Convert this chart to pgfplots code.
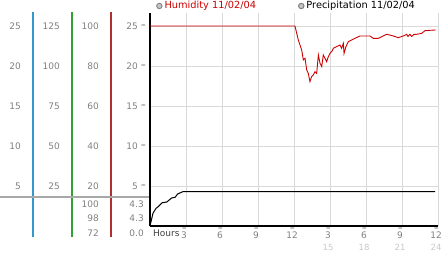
\documentclass[border=0pt]{standalone}
\usepackage{fontspec}
\setmainfont{DejaVu Sans}
\usepackage{pgfplots}
\pgfplotsset{compat=1.18}
\definecolor{tickgray}{HTML}{808080}
\definecolor{gridgray}{HTML}{D9D9D9}
\definecolor{cyanline}{HTML}{3399CC}
\definecolor{greenline}{HTML}{33A033}
\definecolor{redline}{HTML}{B03030}
\definecolor{humred}{HTML}{CC0000}
\definecolor{sepgray}{HTML}{A8A8A8}
\definecolor{faint}{HTML}{C8C8C8}
\pgfplotsset{
  colaxis/.style={
    scale only axis, width=1pt, height=225pt,
    anchor=south west,
    xmin=0, xmax=1, ymin=-1.375, ymax=26.75,
    axis x line=none, axis y line*=left,
    y axis line style={draw=none},
    ytick={5,10,15,20,25},
    major tick length=0pt,
    clip=false,
    yticklabel style={font=\fontsize{9}{10}\selectfont, text=tickgray, inner sep=0pt, xshift=-12pt},
  }
}
\begin{document}
\begin{tikzpicture}
\path[use as bounding box] (0,0) rectangle (442pt,253pt);
% column 1
\begin{axis}[colaxis, at={(33pt,16pt)}, yticklabels={5,10,15,20,25}]
\draw[cyanline, line width=1.2pt] (rel axis cs:0,0) -- (rel axis cs:0,1);
\end{axis}
% column 2
\begin{axis}[colaxis, at={(72pt,16pt)}, yticklabels={25,50,75,100,125}]
\draw[greenline, line width=1.2pt] (rel axis cs:0,0) -- (rel axis cs:0,1);
\end{axis}
% column 3
\begin{axis}[colaxis, at={(111pt,16pt)},
  yticklabels={20,40,60,80,100},
  extra y ticks={2.75,1,-0.875}, extra y tick labels={100,98,72}]
\draw[redline, line width=1.2pt] (rel axis cs:0,0) -- (rel axis cs:0,1);
\end{axis}
% column 4 (labels of the humidity axis)
\begin{axis}[colaxis, at={(150pt,16pt)},
  yticklabels={5,10,15,20,25},
  extra y ticks={2.75,1,-0.875}, extra y tick labels={4.3,4.3,0.0},
  extra y tick style={yticklabel style={xshift=6pt}}]
\end{axis}
\draw[sepgray, line width=2pt] (0pt,56pt) -- (150pt,56pt);
% main plot
\begin{axis}[
  scale only axis, width=288pt, height=213pt,
  at={(150pt,27pt)}, anchor=south west,
  xmin=0, xmax=24, ymin=0, ymax=26.625,
  axis x line*=bottom, axis y line*=left,
  axis line style={-, line width=1.2pt, black},
  xtick={3,6,...,24}, ytick={5,10,...,25},
  major tick length=0pt,
  grid=major, grid style={gridgray, line width=0.8pt},
  xticklabels={3,6,9,12,3,6,9,12},
  xticklabel style={font=\fontsize{9}{10}\selectfont, text=tickgray, inner sep=0pt, anchor=north, yshift=-6pt, xshift=-2pt},
  yticklabels={≈,≈,≈,≈,≈},
  yticklabel style={font=\fontsize{6}{6}\selectfont, text=tickgray, inner sep=0pt, xshift=-4pt},
  clip=false,
  legend style={at={(rel axis cs:0,1)}, anchor=west, xshift=6pt, yshift=7pt,
    draw=none, fill=none, inner sep=0pt, font=\fontsize{9.8}{10}\selectfont,
    legend columns=2, /tikz/every even column/.append style={column sep=40pt}},
  legend cell align=left,
]
\addplot[humred, line width=0.9pt, legend image code/.code={\draw[fill=gray!45, draw=gray] (3pt,0pt) circle (2.7pt);}] coordinates {
(0,25) (12.08,25) (12.36,23.25) (12.64,22.0) (12.78,20.75) (12.92,20.96) (13.06,19.5) (13.19,19.08) (13.33,18.04) (13.47,18.67) (13.61,18.88) (13.75,19.29) (13.89,19.08) (14.03,21.38) (14.17,20.33) (14.31,19.92) (14.44,21.38) (14.58,20.96) (14.72,20.54) (14.86,21.17) (15.0,21.58) (15.14,21.79) (15.28,22.21) (15.56,22.42) (15.83,22.63) (15.97,22.21) (16.11,22.83) (16.17,21.58) (16.33,22.42) (16.53,23.04) (16.81,23.25) (17.08,23.46) (17.5,23.75) (18.33,23.75) (18.61,23.46) (19.03,23.46) (19.72,23.96) (20.28,23.75) (20.69,23.54) (21.11,23.75) (21.39,23.96) (21.5,23.7) (21.65,23.95) (21.81,23.7) (22.0,23.95) (22.22,23.96) (22.64,24.08) (22.92,24.42) (23.33,24.46) (23.81,24.5)
};
\addlegendentry{\textcolor{humred}{Humidity 11/02/04}}
\addplot[black, line width=1pt, legend image code/.code={\draw[fill=gray!45, draw=gray] (3pt,0pt) circle (2.7pt);}] coordinates {
(0,0) (0.25,1.6) (0.5,2.2) (0.67,2.4) (1.0,2.9) (1.4,3.0) (1.8,3.5) (2.1,3.6) (2.3,4.0) (2.75,4.3) (23.75,4.3)
};
\addlegendentry{Precipitation 11/02/04}
\pgfplotsinvokeforeach{3,6,...,24}{
  \node[font=\fontsize{6}{6}\selectfont, text=tickgray, inner sep=0pt] at (axis cs:#1,0) [yshift=-3.5pt, xshift=-1.5pt] {≈};
}
\node[font=\fontsize{9}{10}\selectfont, text=black!75, anchor=west, inner sep=0pt] at (axis cs:0,0) [xshift=3pt, yshift=-7pt] {Hours};
\pgfplotsinvokeforeach{15,18,21,24}{
  \node[font=\fontsize{8.5}{9}\selectfont, text=faint, inner sep=0pt] at (axis cs:#1,0) [yshift=-21.5pt, xshift=-2pt] {#1};
}
\end{axis}
\end{tikzpicture}
\end{document}
